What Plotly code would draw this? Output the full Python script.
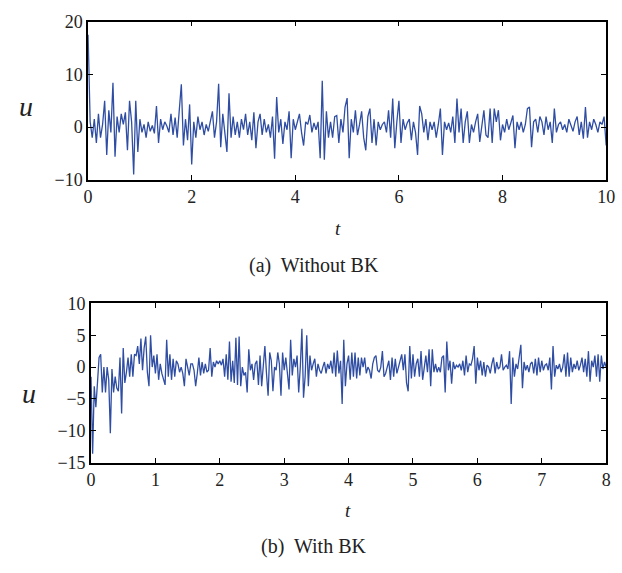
import numpy as np
import plotly.graph_objects as go

# (a) Without BK : u(t), t from 0 to 10
u_without = [
    17.5, 1.0, -2.0, 1.5, -3.0, 2.5, -2.0, 0.5, 5.0, -5.3,
    3.2, -1.0, 8.4, -5.6, 2.0, -1.0, 2.5, 0.5, 2.8, -4.4,
    5.0, 1.0, -9.0, 5.0, -4.7,
    1.5, -1.0, 0.5, -2.0, 1.0, -0.8, 0.3, -1.2, 4.0, -3.0,
    1.5, -0.5, 1.0, 0.2, -1.0, 2.5, -1.5, 1.8, -2.0, 3.2,
    8.1, -3.5, 1.5, -2.5, 4.3,
    -7.1, 1.0, -2.0, 2.0, -0.5, 1.0, -1.5, 0.5, -0.8, 1.5,
    3.0, -2.0, 1.0, 8.2, -3.8, 2.5, -1.0, -4.7, 6.4, -2.0,
    2.0, -1.5, 1.0, -2.0, 1.5,
    -0.5, 2.5, -1.5, 1.0, -2.5, 2.8, -4.0, 1.0, 2.5, -1.5,
    1.5, -1.0, 0.5, -2.0, 2.0, -6.0, 5.7, -1.0, 1.5, -3.2,
    1.0, -0.5, 3.0, -5.9, 1.5,
    -0.5, 1.0, 2.5, -1.0, -3.5, 1.0, 0.5, 2.3, -1.0, 0.8,
    -0.5, 1.0, -5.9, 8.8, -6.2, 3.0, -2.0, 1.0, -2.0, 2.0,
    2.2, -3.0, 1.5, -1.0, 3.8,
    5.5, -5.9, 1.5, -1.0, 3.2, -1.5, 0.5, 3.0, -2.0, -4.4,
    2.0, 3.5, -3.0, 1.5, -3.5, 1.0, -0.5, 0.5, 1.0, -1.0,
    3.2, -2.0, 5.4, -4.0, 1.0,
    5.0, -3.0, 1.5, -0.5, 0.8, 1.5, -2.5, 1.0, -1.0, -5.3,
    4.0, 2.5, -1.0, 1.5, -2.5, 1.0, -0.5, 1.0, -2.0, 0.5,
    3.5, -5.3, 1.0, -0.5, 0.8,
    -1.0, 2.0, -3.0, 5.4, -1.0, 3.5, -3.0, 1.0, 3.0, -3.0,
    0.5, -1.0, 1.0, 2.5, -2.8, 0.5, 3.2, -1.5, -2.0, 3.5,
    -3.0, 3.5, 1.0, 3.2, -2.5,
    0.5, -1.0, 1.5, -0.5, 0.8, 2.2, -4.0, 1.0, -0.5, 1.0,
    -1.0, 0.5, 3.5, 3.8, -3.8, 1.0, 1.5, -1.0, 2.0, 1.0,
    -1.5, 2.0, -0.5, 1.0, -3.0,
    3.5, -1.0, 0.5, 1.0, -0.5, 0.5, -1.0, 1.5, 0.5, -0.8,
    1.0, 2.0, -1.5, 1.0, -2.2, 3.8, -2.0, 1.0, -0.5, 1.5,
    0.5, -1.0, 1.0, 0.5, 2.0,
    -3.5,
]

# (b) With BK : u(t), t from 0 to 8
u_with = [
    -1.5, -13.6, -3.0, -6.3, -2.5, 1.5, 2.0, -4.0, 0.0, -4.0,
    0.0, -2.0, -10.4, -0.3, -4.0, -1.5, -3.3, -3.8, 1.5, -7.3,
    3.0, -2.5, -0.8, 1.5, -1.5, 2.0, -1.5, 2.0, 1.8, 3.3,
    0.5, 4.5, -0.5, 3.0, 4.8, -0.8, -3.0, 5.0, 0.0, 1.8,
    -1.0, 2.0, -2.0, 0.5, -1.0, -2.0, -2.8, 4.3, -1.5, 2.0,
    -2.0, 1.3, -1.5, 1.0, 0.5, -0.8, 0.0, -1.0, -3.0, 1.3,
    0.0, -1.3, 0.5, 0.5, -0.5, -3.0, -1.0, 1.5, -1.3, 0.8,
    -1.0, 0.5, -0.8, -0.5, 3.0, -1.5, 0.8, 0.0, 1.0, 0.5,
    1.0, 0.3, 1.3, -1.5, 2.0, -2.0, 4.0, -2.3, 1.0, -2.5,
    4.6, -2.8, 4.8, -3.0, 0.0, -1.3, -0.8, -4.0, 2.8, -0.5,
    0.5, -2.0, 0.5, 1.0, -2.8, 1.8, -3.0, 0.0, 3.3, -1.0,
    -4.5, 2.3, 1.0, -3.8, 0.0, -0.5, 2.3, 0.5, -4.5, 2.3,
    -0.5, 1.5, -1.5, -3.5, 4.3, -1.3, 1.3, 0.0, 1.8, -4.0,
    0.0, 6.0, -4.8, -1.5, 5.0, -3.0, 1.8, -0.5, 0.5, 1.3,
    -1.5, 0.5, -0.5, -1.0, 0.0, 0.8, -1.0, 0.5, -0.3, 1.0,
    -1.0, 2.3, -1.5, 2.6, -1.0, 1.0, -5.8, 4.3, -3.0, 0.5,
    1.8, -2.0, 2.3, -1.5, 2.3, -1.8, 1.5, -1.3, 1.5, 0.0,
    1.5, -1.0, 0.0, -0.5, -1.8, 0.5, 1.5, 1.8, -0.5, -0.8,
    0.0, 2.5, -1.5, -1.0, 0.0, 1.0, -2.0, 1.5, -1.5, 1.3,
    -1.0, 0.0, 0.8, 2.0, -0.5, 2.0, -2.5, -3.8, 3.3, -1.8,
    2.0, -1.5, 0.5, 1.3, -1.5, 2.5, -2.0, 0.0, 1.8, -0.8,
    2.8, -3.0, 2.8, -0.8, 0.5, -0.8, 0.0, -0.8, 1.5, 1.8,
    -4.0, 4.0, -0.5, 1.0, -2.6, 0.8, -0.3, 0.3, 0.0, 0.5,
    -0.5, 1.0, -1.3, 1.8, -0.8, 0.5, 0.3, 1.3, 3.3, -2.6,
    1.5, -0.5, 1.0, -1.3, 0.8, -1.5, 0.3, 0.0, -1.0, 0.5,
    1.5, -1.0, 0.8, -0.3, 0.0, 2.0, -0.5, 0.0, 0.3, -0.3,
    2.5, -5.8, 1.5, -1.5, 0.5, -0.3, 1.5, 3.5, -3.3, 0.8,
    -0.5, 0.3, -0.8, 0.5, 0.8, -1.0, 1.3, -1.3, 1.5, -0.8,
    1.0, -0.5, 0.3, 0.5, -0.5, 1.5, -3.5, 3.3, -1.5, 0.3,
    -0.3, 0.5, -0.8, 0.0, 2.0, -1.5, 2.3, -1.5, 1.5, -0.8,
    0.5, -0.3, 1.0, -0.5, 0.3, 1.5, -0.8, 1.3, -1.5, 2.5,
    -2.3, 1.0, 0.0, 1.8, -1.5, 2.0, -2.3, 1.8, -0.3, 0.8,
    0.0,
]

t_end_a = 10
t_end_b = 8
xticks_a = [0, 2, 4, 6, 8, 10]
yticks_a = [-10, 0, 10, 20]
xticks_b = [0, 1, 2, 3, 4, 5, 6, 7, 8]
yticks_b = [-15, -10, -5, 0, 5, 10]
caption_a = "(a)  Without BK"
caption_b = "(b)  With BK"

t_a = np.linspace(0, t_end_a, len(u_without))
t_b = np.linspace(0, t_end_b, len(u_with))

W, H = 622, 573
LINE = "#2f4ea3"
FONT = "Liberation Serif"
TXT = "#222"

fig = go.Figure()
fig.add_trace(go.Scatter(x=t_a, y=u_without, mode="lines",
                         line=dict(color=LINE, width=1.3),
                         xaxis="x", yaxis="y", showlegend=False))
fig.add_trace(go.Scatter(x=t_b, y=u_with, mode="lines",
                         line=dict(color=LINE, width=1.3),
                         xaxis="x2", yaxis="y2", showlegend=False))

def ax(domain, rng, ticks, anchor):
    return dict(domain=domain, range=rng, tickvals=ticks, anchor=anchor,
                showgrid=False, zeroline=False, showline=True,
                linecolor="black", linewidth=1.6, mirror="allticks",
                ticks="inside", ticklen=5, tickwidth=1.2, tickcolor="black",
                tickfont=dict(family=FONT, size=18, color=TXT))

def px_x(p):
    return p / W

def px_y(p):
    return 1 - p / H

fig.update_layout(
    width=W, height=H,
    margin=dict(l=0, r=0, t=0, b=0),
    plot_bgcolor="white", paper_bgcolor="white",
    xaxis=ax([px_x(85), px_x(615)], [0, 10], xticks_a, "y"),
    yaxis=ax([px_y(176), px_y(12)], [-10, 20], yticks_a, "x"),
    xaxis2=ax([px_x(88), px_x(615)], [0, 8], xticks_b, "y2"),
    yaxis2=ax([px_y(469), px_y(304)], [-15, 10], yticks_b, "x2"),
)

anns = [
    dict(text="<i>u</i>", x=px_x(21), y=px_y(100), size=28),
    dict(text="<i>t</i>", x=px_x(341), y=px_y(226), size=19),
    dict(text=caption_a, x=px_x(316), y=px_y(265), size=20),
    dict(text="<i>u</i>", x=px_x(25), y=px_y(397), size=28),
    dict(text="<i>t</i>", x=px_x(351), y=px_y(519), size=19),
    dict(text=caption_b, x=px_x(316), y=px_y(556), size=20),
]
for a in anns:
    fig.add_annotation(text=a["text"], x=a["x"], y=a["y"], xref="paper", yref="paper",
                       showarrow=False, xanchor="center", yanchor="middle",
                       font=dict(family=FONT, size=a["size"], color=TXT))

fig.write_html("out.html", config={"displayModeBar": False},
               post_script="document.body.style.margin='0';document.body.style.overflow='hidden';")
